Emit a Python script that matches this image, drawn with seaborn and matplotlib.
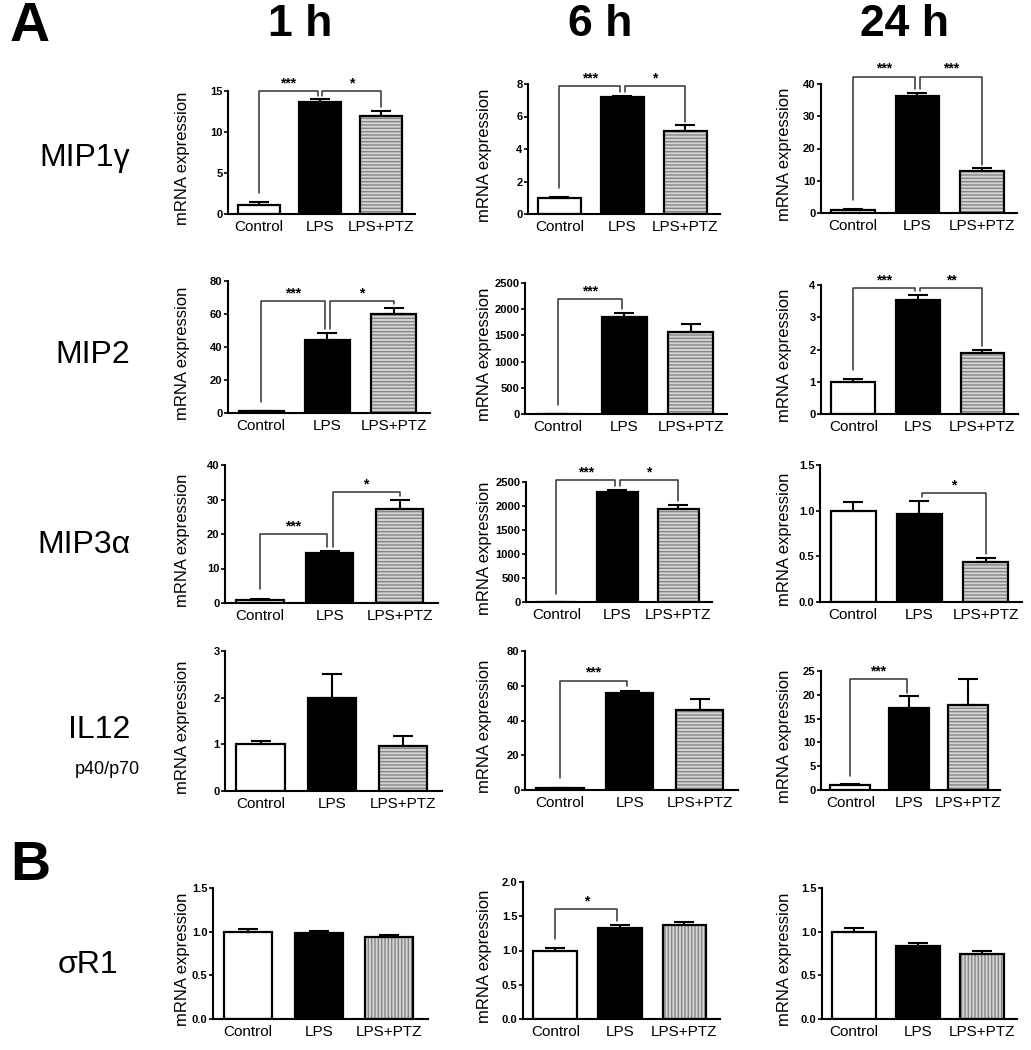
import matplotlib
matplotlib.use("Agg")
import matplotlib.pyplot as plt
from matplotlib.patches import Rectangle
import seaborn as sns

# Données (moyenne, SEM) -- Control, LPS, LPS+PTZ
groupes = ["Control", "LPS", "LPS+PTZ"]
temps = ["1 h", "6 h", "24 h"]
genes = ["MIP1γ", "MIP2", "MIP3α", "IL12", "σR1"]

mip1g_moy = [[1.1, 13.6, 12.0], [1.0, 7.2, 5.1], [1.0, 36.2, 12.9]]
mip1g_sem = [[0.4, 0.4, 0.6], [0.05, 0.08, 0.35], [0.3, 1.0, 0.9]]
mip2_moy = [[1.0, 44.0, 60.0], [1.0, 1850, 1560], [1.0, 3.55, 1.88]]
mip2_sem = [[0.3, 4.5, 3.5], [0.5, 70, 160], [0.07, 0.13, 0.12]]
mip3a_moy = [[1.0, 14.5, 27.3], [1.0, 2300, 1940], [1.0, 0.96, 0.44]]
mip3a_sem = [[0.2, 0.5, 2.5], [0.5, 40, 80], [0.1, 0.15, 0.04]]
il12_moy = [[1.0, 2.0, 0.97], [1.0, 56.0, 46.0], [1.0, 17.3, 17.8]]
il12_sem = [[0.07, 0.5, 0.2], [0.3, 1.2, 6.5], [0.2, 2.4, 5.5]]
sr1_moy = [[1.0, 0.99, 0.94], [1.0, 1.33, 1.37], [1.0, 0.84, 0.75]]
sr1_sem = [[0.03, 0.02, 0.02], [0.03, 0.04, 0.05], [0.04, 0.03, 0.03]]

# échelle de l'axe y : (max, pas)
mip1g_y = [(15, 5), (8, 2), (40, 10)]
mip2_y = [(80, 20), (2500, 500), (4, 1)]
mip3a_y = [(40, 10), (2500, 500), (1.5, 0.5)]
il12_y = [(3, 1), (80, 20), (25, 5)]
sr1_y = [(1.5, 0.5), (2.0, 0.5), (1.5, 0.5)]

# comparaisons significatives : (i, j, niveau, étoiles)
mip1g_sig = [[(0, 1, 15, "***"), (1, 2, 15, "*")],
             [(0, 1, 7.9, "***"), (1, 2, 7.9, "*")],
             [(0, 1, 42.3, "***"), (1, 2, 42.3, "***")]]
mip2_sig = [[(0, 1, 68, "***"), (1, 2, 68, "*")],
            [(0, 1, 2200, "***")],
            [(0, 1, 3.9, "***"), (1, 2, 3.9, "**")]]
mip3a_sig = [[(0, 1, 20, "***"), (1, 2, 32.2, "*")],
             [(0, 1, 2550, "***"), (1, 2, 2550, "*")],
             [(1, 2, 1.19, "*")]]
il12_sig = [[], [(0, 1, 63, "***")], [(0, 1, 23.3, "***")]]
sr1_sig = [[], [(0, 1, 1.6, "*")], []]

moyennes = [mip1g_moy, mip2_moy, mip3a_moy, il12_moy, sr1_moy]
sems = [mip1g_sem, mip2_sem, mip3a_sem, il12_sem, sr1_sem]
echelles = [mip1g_y, mip2_y, mip3a_y, il12_y, sr1_y]
signifs = [mip1g_sig, mip2_sig, mip3a_sig, il12_sig, sr1_sig]

# position des axes en pixels (gauche, haut, droite, bas)
cadres = [
    [(228, 91, 415, 214), (528, 84, 720, 214), (821, 84, 1017, 213)],
    [(228, 281, 430, 413), (525, 283, 727, 414), (821, 285, 1018, 414)],
    [(225, 465, 438, 603), (526, 482, 712, 602), (820, 465, 1022, 602)],
    [(225, 651, 442, 791), (525, 651, 738, 790), (821, 671, 1000, 790)],
    [(213, 888, 428, 1019), (523, 882, 720, 1019), (822, 888, 1017, 1019)],
]
x_ylabel = [183, 484, 785]
y_gene = [158, 355, 545, 730, 965]

W, H = 1031, 1050

sns.set_style("ticks")
plt.rcParams["font.family"] = ["Liberation Sans", "DejaVu Sans"]
plt.rcParams["hatch.linewidth"] = 1.0
for k in ["text.color", "axes.labelcolor", "xtick.color", "ytick.color", "axes.edgecolor"]:
    plt.rcParams[k] = "black"

fig = plt.figure(figsize=(W / 100, H / 100), dpi=100)


def ajoute_axes(cadre):
    g, h, d, b = cadre
    return fig.add_axes([g / W, 1 - b / H, (d - g) / W, (b - h) / H])


def crochet(ax, i, j, niveau, etoiles, hauts, ymax):
    xi = i + (0.04 if i == 1 else 0)
    xj = j - (0.04 if j == 1 else 0)
    yi = hauts[i] + (0.07 if i == 0 else 0.03) * ymax
    yj = hauts[j] + 0.03 * ymax
    ax.plot([xi, xi, xj, xj], [yi, niveau, niveau, yj], color="#333333",
            lw=1.1, clip_on=False, zorder=5)
    ax.text((xi + xj) / 2, niveau + 0.005 * ymax, etoiles, ha="center",
            va="bottom", fontsize=10, fontweight="bold", clip_on=False)


for r in range(5):
    hachure = "|||||" if r == 4 else "-----"
    for c in range(3):
        ax = ajoute_axes(cadres[r][c])
        moy = moyennes[r][c]
        err = sems[r][c]
        ymax, pas = echelles[r][c]

        sns.barplot(x=groupes, y=moy, hue=groupes, palette=["white", "black", "#d4d4d4"],
                    legend=False, width=0.68, edgecolor="black", linewidth=1.6,
                    errorbar=None, ax=ax)
        ax.errorbar(x=range(3), y=moy, yerr=[[0, 0, 0], err], fmt="none",
                    ecolor="black", elinewidth=1.5, capsize=7, capthick=1.5, zorder=2)

        # barre hachurée grise + contour noir par-dessus
        p = ax.patches[2]
        p.set_edgecolor("#858585")
        p.set_hatch(hachure)
        p.set_linewidth(0)
        ax.add_patch(Rectangle((p.get_x(), p.get_y()), p.get_width(), p.get_height(),
                               fill=False, edgecolor="black", lw=1.6, zorder=3))

        hauts = [m + e for m, e in zip(moy, err)]
        for (i, j, niveau, etoiles) in signifs[r][c]:
            crochet(ax, i, j, niveau, etoiles, hauts, ymax)

        ax.set_xlim(-0.5, 2.55)
        ax.set_ylim(0, ymax)
        ticks = [k * pas for k in range(int(round(ymax / pas)) + 1)]
        ax.set_yticks(ticks)
        if pas < 1:
            ax.set_yticklabels([f"{t:.1f}" for t in ticks])
        else:
            ax.set_yticklabels([f"{int(t)}" for t in ticks])
        for lab in ax.get_yticklabels():
            lab.set_fontweight("bold")
        ax.tick_params(axis="y", length=3, width=1.2, labelsize=8, pad=1)
        ax.tick_params(axis="x", length=0, labelsize=11, pad=4)
        ax.set_xlabel("")
        ax.set_ylabel("")
        sns.despine(ax=ax)
        for s in ["left", "bottom"]:
            ax.spines[s].set_linewidth(1.5)

        g, h, d, b = cadres[r][c]
        fig.text(x_ylabel[c] / W, 1 - ((h + b) / 2 + 6) / H, "mRNA expression",
                 rotation=90, ha="center", va="center", fontsize=12)

# titres de colonnes, noms des gènes, lettres des panneaux
for c, t in enumerate(temps):
    fig.text([300, 600, 905][c] / W, 1 - 24 / H, t, ha="center", va="center",
             fontsize=32, fontweight="bold")
for r, gname in enumerate(genes):
    if r < 4:
        fig.text(130 / W, 1 - y_gene[r] / H, gname, ha="right", va="center", fontsize=23)
    else:
        fig.text(88 / W, 1 - y_gene[r] / H, gname, ha="center", va="center", fontsize=23)
fig.text(140 / W, 1 - 770 / H, "p40/p70", ha="right", va="center", fontsize=13)
fig.text(30 / W, 1 - 27 / H, "A", ha="center", va="center", fontsize=40, fontweight="bold")
fig.text(30 / W, 1 - 866 / H, "B", ha="center", va="center", fontsize=40, fontweight="bold")

fig.savefig("out.png", dpi=100, facecolor="white")
